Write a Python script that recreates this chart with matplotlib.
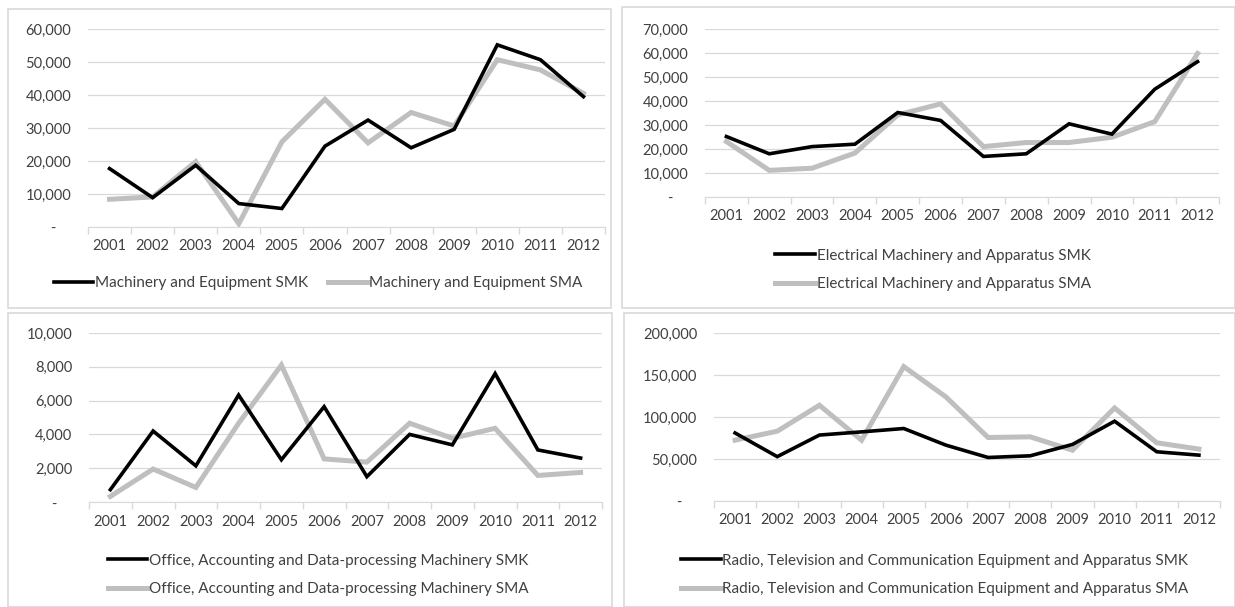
import matplotlib
matplotlib.use("Agg")
import matplotlib.pyplot as plt
from matplotlib.patches import Rectangle
from matplotlib.ticker import FuncFormatter

years = ["2001", "2002", "2003", "2004", "2005", "2006",
         "2007", "2008", "2009", "2010", "2011", "2012"]

mach_smk = [17700, 8900, 18700, 7100, 5600, 24500, 32400, 24000, 29600, 55200, 50700, 39500]
mach_sma = [8400, 9100, 19800, 1000, 25800, 38700, 25500, 34700, 30600, 50700, 47600, 40500]

elec_smk = [25200, 18000, 21000, 22000, 35200, 31900, 16900, 18000, 30500, 26200, 44900, 56400]
elec_sma = [23100, 11100, 12000, 18300, 34200, 38800, 21000, 22700, 22700, 24900, 31400, 59800]

office_smk = [730, 4200, 2140, 6330, 2500, 5640, 1500, 4000, 3380, 7600, 3080, 2600]
office_sma = [330, 1950, 860, 4660, 8100, 2550, 2360, 4660, 3770, 4360, 1570, 1750]

radio_smk = [81000, 52800, 78500, 82300, 86300, 66500, 51800, 53800, 67300, 95000, 58600, 54600]
radio_sma = [72400, 83100, 114000, 72400, 160000, 123900, 75600, 76400, 60500, 110800, 69300, 61800]

W, H = 1235, 607
plt.rcParams['font.family'] = ['Lato', 'DejaVu Sans']
plt.rcParams['font.size'] = 10.5

fig = plt.figure(figsize=(W / 100, H / 100), dpi=100)
fig.patch.set_facecolor("white")

GRID = "#d9d9d9"
TXT = "#404040"


def fmt(v, pos):
    if v == 0:
        return "-    "
    return f"{int(v):,}"


def panel(box, area, smk, sma, labels, ymax, ystep, leg_center, ncol):
    # outer chart border
    bx0, by0, bx1, by1 = box
    fig.add_artist(Rectangle((bx0 / W, 1 - by1 / H), (bx1 - bx0) / W, (by1 - by0) / H,
                             transform=fig.transFigure, fill=False, ec=GRID, lw=1.2))
    x0, y0, x1, y1 = area
    ax = fig.add_axes([x0 / W, 1 - y1 / H, (x1 - x0) / W, (y1 - y0) / H])
    xs = list(range(len(years)))
    l1, = ax.plot(xs, smk, color="black", lw=2.6, solid_joinstyle="miter", zorder=3)
    l2, = ax.plot(xs, sma, color="#bfbfbf", lw=3.6, solid_joinstyle="miter", zorder=2)
    ax.set_xlim(-0.5, len(years) - 0.5)
    ax.set_ylim(0, ymax)
    ax.set_yticks(range(0, ymax + 1, ystep))
    ax.yaxis.set_major_formatter(FuncFormatter(fmt))
    ax.set_xticks(xs)
    ax.set_xticklabels(years)
    ax.set_xticks([i - 0.5 for i in range(len(years) + 1)], minor=True)
    ax.tick_params(axis="x", which="major", length=0, pad=9, colors=TXT, labelsize=10.5)
    ax.tick_params(axis="x", which="minor", length=5, color=GRID, width=1)
    ax.tick_params(axis="y", length=0, pad=12, colors=TXT, labelsize=10.5)
    ax.grid(axis="y", color=GRID, lw=0.9)
    ax.set_axisbelow(True)
    for s in ["top", "right", "left"]:
        ax.spines[s].set_visible(False)
    ax.spines["bottom"].set_color(GRID)
    ax.spines["bottom"].set_zorder(1)
    cx, cy = leg_center
    leg = fig.legend([l1, l2], labels, loc="center", bbox_to_anchor=(cx / W, 1 - cy / H),
                     ncol=ncol, frameon=False, handlelength=2.6, handletextpad=0.1,
                     columnspacing=1.3, labelspacing=0.95, fontsize=11)
    for t in leg.get_texts():
        t.set_color(TXT)
    return ax


panel((8, 9, 611, 308), (88, 29, 605, 227), mach_smk, mach_sma,
      ["Machinery and Equipment SMK", "Machinery and Equipment SMA"],
      60000, 10000, (318, 283), 2)
panel((622, 7, 1235, 308), (705, 29, 1219, 197), elec_smk, elec_sma,
      ["Electrical Machinery and Apparatus SMK", "Electrical Machinery and Apparatus SMA"],
      70000, 10000, (933, 270), 1)
panel((8, 313, 612, 607), (89, 333, 602, 502), office_smk, office_sma,
      ["Office, Accounting and Data-processing Machinery SMK",
       "Office, Accounting and Data-processing Machinery SMA"],
      10000, 2000, (318, 575), 1)
panel((624, 313, 1235, 607), (714, 333, 1220, 501), radio_smk, radio_sma,
      ["Radio, Television and Communication Equipment and Apparatus SMK",
       "Radio, Television and Communication Equipment and Apparatus SMA"],
      200000, 50000, (935, 575), 1)

fig.savefig("out.png", dpi=100, facecolor="white")
